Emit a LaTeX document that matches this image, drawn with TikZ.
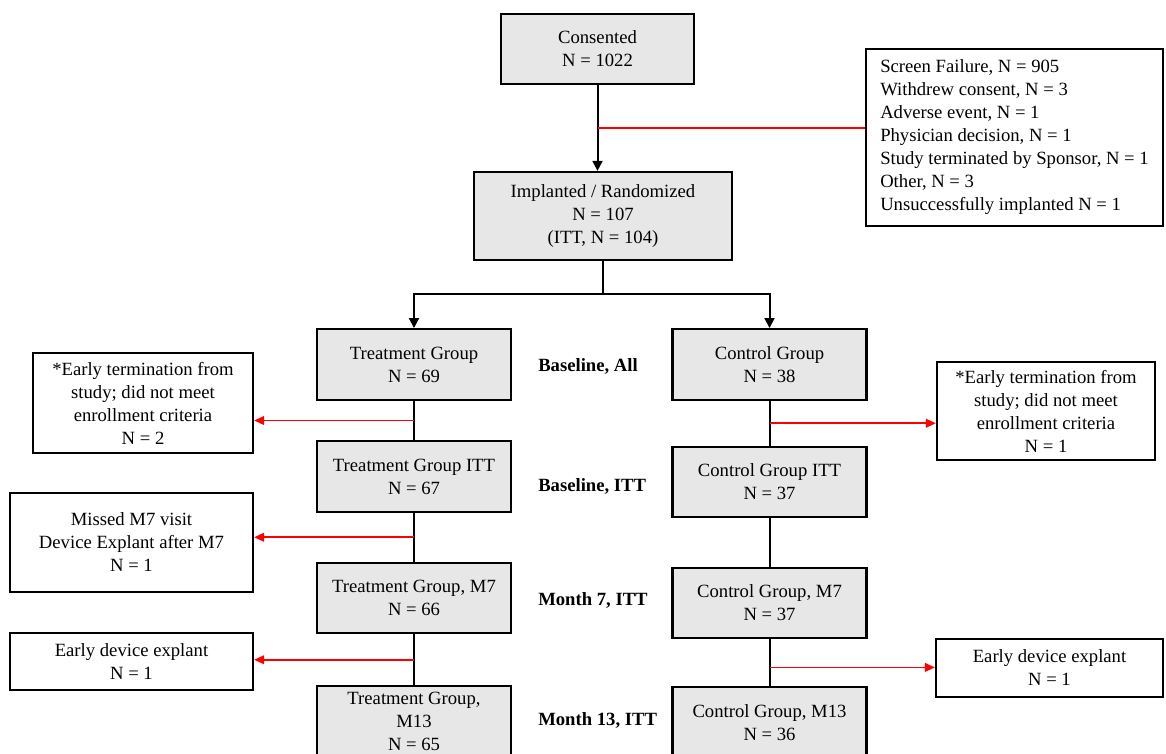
\documentclass[tikz,border=0pt]{standalone}
\usepackage{fontspec}
\setmainfont{Liberation Serif}
\usetikzlibrary{arrows.meta,calc,positioning}
\definecolor{boxgray}{HTML}{E7E7E7}
\definecolor{exitred}{HTML}{FF0000}

\begin{document}
\begin{tikzpicture}[
  x=0.75pt,y=-0.75pt,
  font=\fontsize{14}{17.25}\selectfont,
  box/.style={draw=black,line width=1.7pt,align=center,inner sep=2pt,
    minimum width=#1},
  box/.default=145.5pt,
  group/.style={fill=boxgray,minimum height=53pt},
  link/.style={draw=black,line width=1.5pt},
  flow/.style={link,-{Triangle[length=7.5pt,width=7.5pt]}},
  exitline/.style={draw=exitred,line width=1.3pt},
  exit/.style={exitline,-{Triangle[length=7.5pt,width=6.5pt]}},
  stage/.style={font=\fontsize{14}{17.25}\selectfont\bfseries,anchor=west,inner sep=0pt}
]
\useasboundingbox (0,0) rectangle (1166,753);
\clip (0,0) rectangle (1166,753);

\node[box=144.75pt,group,minimum height=52.5pt] (consent) at (597.5,49) {Consented\\N = 1022};
\node[box=222.75pt,minimum height=132.75pt,align=left] (reasons) at (1014.5,137.5) {
  Screen Failure, N = 905\\
  Withdrew consent, N = 3\\
  Adverse event, N = 1\\
  Physician decision, N = 1\\
  Study terminated by Sponsor, N = 1\\
  Other, N = 3\\
  Unsuccessfully implanted N = 1
};
\node[box=193.5pt,group,minimum height=66pt] (implant) at (603,216)
  {Implanted / Randomized\\N = 107\\(ITT, N = 104)};

% treatment arm
\node[box,group] (treat) at (414,364.5) {Treatment Group\\N = 69};
\node[box,group] (treatitt) at (414,476.5) {Treatment Group ITT\\N = 67};
\node[box,group] (treatm7) at (414,598) {Treatment Group, M7\\N = 66};
\node[box,group] (treatm13) at (414,721.5) {Treatment Group,\\M13\\N = 65};

% control arm
\node[box,group] (control) at (769.5,364.5) {Control Group\\N = 38};
\node[box,group] (controlitt) at (769.5,482) {Control Group ITT\\N = 37};
\node[box,group] (controlm7) at (769.5,603) {Control Group, M7\\N = 37};
\node[box,group] (controlm13) at (769.5,722.5) {Control Group, M13\\N = 36};

\node[stage] (base) at (538,366) {Baseline, All};
\node[stage] (baseitt) at (538,486) {Baseline, ITT};
\node[stage] (month7) at (538,600) {Month 7, ITT};
\node[stage] (month13) at (538,720) {Month 13, ITT};

% withdrawals
\node[box=165pt,minimum height=75pt] (term1) at (143,403)
  {*Early termination from\\study; did not meet\\enrollment criteria\\N = 2};
\node[box=163.5pt,minimum height=73.5pt] (term2) at (1046,411)
  {*Early termination from\\study; did not meet\\enrollment criteria\\N = 1};
\node[box=182.25pt,minimum height=74.25pt] (missed) at (131.5,542.5)
  {Missed M7 visit\\Device Explant after M7\\N = 1};
\node[box=182.25pt,minimum height=42.75pt] (explant1) at (131.5,661.5)
  {Early device explant\\N = 1};
\node[box=170.25pt,minimum height=43.5pt] (explant2) at (1049.5,668)
  {Early device explant\\N = 1};

\draw[flow] (consent.south) -- (consent.south |- implant.north);
\coordinate (drop) at ($(consent.south)!.5!(consent.south |- implant.north)$);
\draw[exitline] (drop) -- (drop -| reasons.west);

\coordinate (fork) at ($(implant.south)+(0,33)$);
\draw[link] (implant.south) -- (fork);
\draw[flow] (fork) -| (treat.north);
\draw[flow] (fork) -| (control.north);

\draw[link] (treat) -- (treatitt) -- (treatm7) -- (treatm13);
\draw[link] (control) -- (controlitt) -- (controlm7) -- (controlm13);

\coordinate (cut1) at ($(treat.south)!.5!(treatitt.north)$);
\coordinate (cut2) at ($(control.south)!.5!(controlitt.north)$);
\coordinate (cut3) at ($(treatitt.south)!.5!(treatm7.north)$);
\coordinate (cut4) at ($(treatm7.south)!.5!(treatm13.north)$);
\coordinate (cut5) at ($(controlm7.south)!.6!(controlm13.north)$);
\draw[exit] (cut1) -- (cut1 -| term1.east);
\draw[exit] (cut2) -- (cut2 -| term2.west);
\draw[exit] (cut3) -- (cut3 -| missed.east);
\draw[exit] (cut4) -- (cut4 -| explant1.east);
\draw[exit] (cut5) -- (cut5 -| explant2.west);

\end{tikzpicture}
\end{document}
